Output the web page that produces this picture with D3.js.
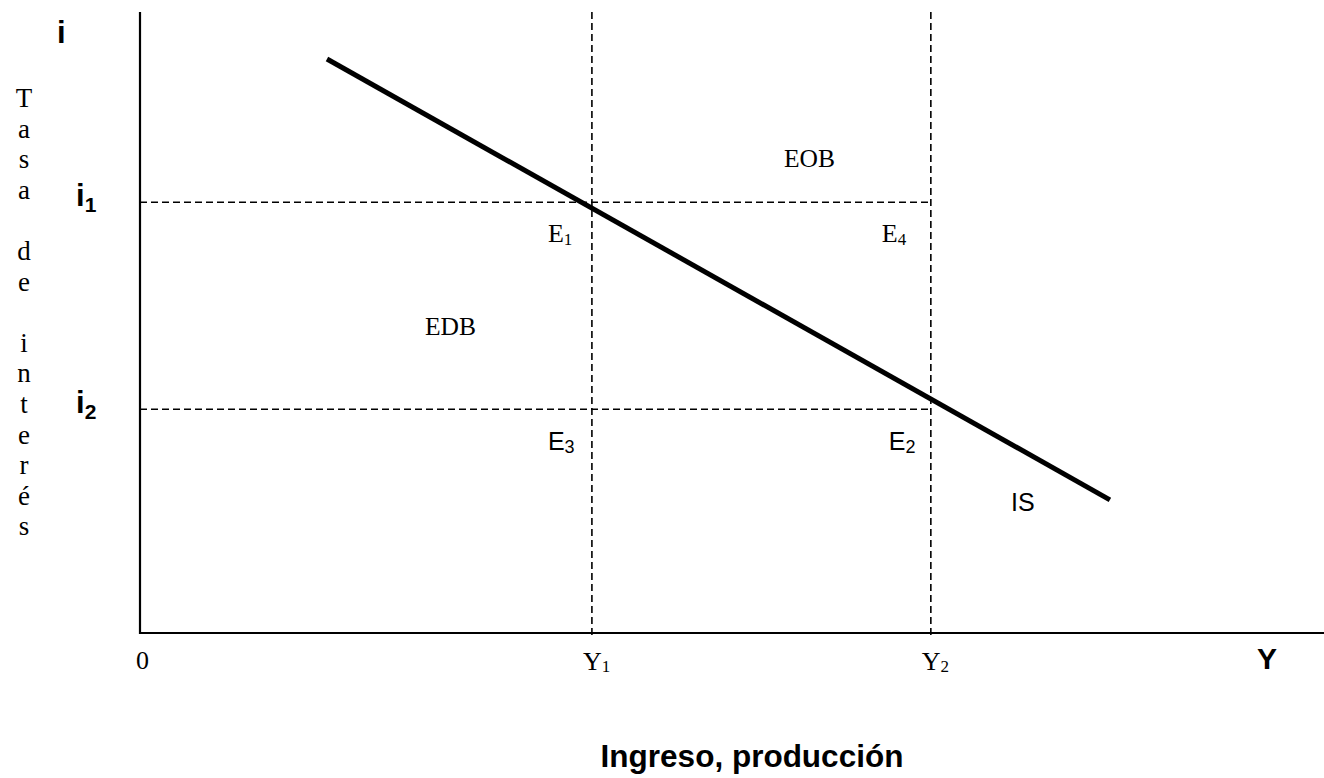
<!DOCTYPE html>
<html>
<head>
<meta charset="utf-8">
<script src="https://cdn.jsdelivr.net/npm/d3@7"></script>
<style>
  body { margin: 0; background: #fff; }
  .serif { font-family: "Liberation Serif", "Times New Roman", serif; }
  .sans { font-family: "Liberation Sans", Arial, sans-serif; }
</style>
</head>
<body>
<div id="chart"></div>
<script>
// income levels (x) and interest rates (y), in abstract units
var incomeLevels = [4, 7];            // Y1, Y2
var incomeLabels = ["1", "2"];
var rateLevels = [7.7, 4];            // i1, i2
var rateLabels = ["1", "2"];
var isCurve = [[1.655, 10.26], [8.585, 2.38]];
var verticalTitle = "Tasa de interés".split("");

var width = 1324, height = 778;

var svg = d3.select("#chart")
  .append("svg")
    .attr("width", width)
    .attr("height", height);

var x = d3.scaleLinear()
    .domain([0, 10.48])
    .range([140, 1324]);
var y = d3.scaleLinear()
    .domain([0, 11.1])
    .range([633, 12]);

// dashed guides
incomeLevels.forEach(function(v) {
  svg.append("line")
    .attr("x1", x(v)).attr("x2", x(v))
    .attr("y1", y(11.1)).attr("y2", y(0) + 2)
    .attr("stroke", "#000")
    .attr("stroke-width", 1.6)
    .attr("stroke-dasharray", "7,4");
});
rateLevels.forEach(function(v) {
  svg.append("line")
    .attr("x1", x(0)).attr("x2", x(incomeLevels[1]))
    .attr("y1", y(v)).attr("y2", y(v))
    .attr("stroke", "#000")
    .attr("stroke-width", 1.6)
    .attr("stroke-dasharray", "7,4");
});

// axes
svg.append("line")
  .attr("x1", x(0)).attr("x2", x(0))
  .attr("y1", y(11.1)).attr("y2", y(0) + 1)
  .attr("stroke", "#000").attr("stroke-width", 2.2);
svg.append("line")
  .attr("x1", x(0) - 1).attr("x2", x(10.48))
  .attr("y1", y(0)).attr("y2", y(0))
  .attr("stroke", "#000").attr("stroke-width", 2.2);

// IS curve
svg.append("path")
  .datum(isCurve)
  .attr("fill", "none")
  .attr("stroke", "#000")
  .attr("stroke-width", 5)
  .attr("d", d3.line()
    .x(function(d) { return x(d[0]) })
    .y(function(d) { return y(d[1]) }));

// axis names
svg.append("text").attr("class", "sans")
  .attr("x", 57).attr("y", 43)
  .attr("font-size", 31).attr("font-weight", "bold")
  .text("i");
svg.append("text").attr("class", "sans")
  .attr("x", 1257).attr("y", 669)
  .attr("font-size", 30).attr("font-weight", "bold")
  .text("Y");
svg.append("text").attr("class", "sans")
  .attr("x", 752).attr("y", 767)
  .attr("text-anchor", "middle")
  .attr("font-size", 31.5).attr("font-weight", "bold")
  .text("Ingreso, producción");

// vertical title, one letter per row
svg.append("g").selectAll("text")
  .data(verticalTitle)
  .enter()
  .append("text")
    .attr("class", "serif")
    .attr("x", 24)
    .attr("y", function(d, k) { return 107 + k * 30.6 })
    .attr("text-anchor", "middle")
    .attr("font-size", 27)
    .text(function(d) { return d });

// rate labels i1, i2
rateLevels.forEach(function(v, k) {
  var t = svg.append("text").attr("class", "sans")
    .attr("x", 76).attr("y", y(v) + 4)
    .attr("font-size", 31).attr("font-weight", "bold");
  t.append("tspan").text("i");
  t.append("tspan").attr("font-size", 21).attr("dy", 6).text(rateLabels[k]);
});

// income labels 0, Y1, Y2
svg.append("text").attr("class", "serif")
  .attr("x", x(0) - 4).attr("y", 669)
  .attr("font-size", 26)
  .text("0");
incomeLevels.forEach(function(v, k) {
  var t = svg.append("text").attr("class", "serif")
    .attr("x", x(v) - 9).attr("y", 670)
    .attr("font-size", 26);
  t.append("tspan").text("Y");
  t.append("tspan").attr("font-size", 17).attr("dy", 2).text(incomeLabels[k]);
});

// point labels
function sub(cls, px, py, main, s, fs, sfs) {
  var t = svg.append("text").attr("class", cls)
    .attr("x", px).attr("y", py).attr("font-size", fs);
  t.append("tspan").text(main);
  t.append("tspan").attr("font-size", sfs).attr("dy", 3).text(s);
}
sub("serif", x(incomeLevels[0]) - 44, 242, "E", "1", 26, 17);
sub("serif", x(incomeLevels[1]) - 49, 242, "E", "4", 26, 17);
sub("sans", x(incomeLevels[0]) - 44, 450, "E", "3", 25, 18);
sub("sans", x(incomeLevels[1]) - 42, 450, "E", "2", 25, 18);

svg.append("text").attr("class", "serif")
  .attr("x", 784).attr("y", 167).attr("font-size", 25.5).text("EOB");
svg.append("text").attr("class", "serif")
  .attr("x", 425).attr("y", 335).attr("font-size", 25.5).text("EDB");
svg.append("text").attr("class", "sans")
  .attr("x", 1011).attr("y", 511).attr("font-size", 25).text("IS");
</script>
</body>
</html>
